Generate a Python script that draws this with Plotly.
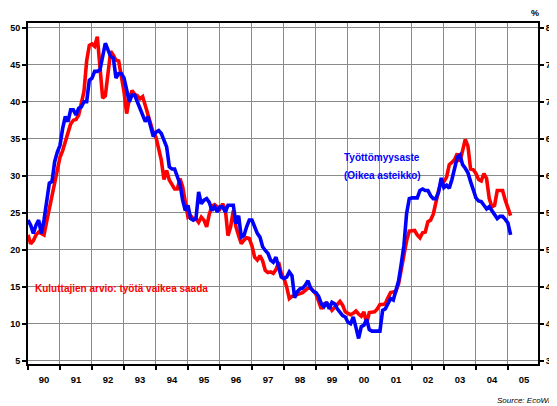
import plotly.graph_objects as go

# Monthly data, Jan 1990 .. Feb 2005
start_year = 1990
# Consumers' assessment: "work hard to find" (left axis, balance)
kuluttajat = [
    22.0, 20.8, 21.2, 22.0, 22.4, 22.2, 22.0, 23.8, 25.6, 27.0, 29.2, 30.8,
    32.5, 33.4, 34.5, 35.6, 37.0, 37.5, 37.6, 38.2, 39.6, 41.4, 45.5, 47.6,
    47.8, 47.5, 48.8, 45.0, 40.5, 40.8, 43.5, 46.8, 46.3, 45.6, 45.5, 43.6,
    41.4, 38.4, 40.4, 41.5, 41.0, 40.8, 40.4, 40.7, 39.5, 38.6, 37.0, 35.8,
    35.2, 33.4, 32.1, 29.5, 30.7, 29.4, 28.7, 28.2, 28.2, 29.6, 28.5, 26.2,
    24.4, 24.6, 24.2, 24.2, 23.7, 24.4, 24.0, 23.1, 24.8, 25.9, 26.1, 25.8,
    25.5, 26.2, 25.5, 21.9, 23.1, 25.3, 23.1, 21.9, 20.8, 21.3, 21.6, 21.5,
    20.5, 19.0, 18.6, 19.2, 18.5, 17.2, 16.9, 17.0, 16.8, 17.3, 18.3, 16.8,
    16.1, 15.0, 13.4, 13.7, 13.8, 14.0, 14.1, 14.2, 14.5, 14.8, 14.8, 14.3,
    14.0, 13.0, 12.0, 12.7, 12.8, 12.4, 11.8, 12.2, 12.7, 13.0, 12.5, 11.6,
    11.4, 11.2, 11.4, 11.7, 11.3, 11.0, 11.6, 10.0, 11.5, 11.6, 11.6, 12.0,
    12.6, 12.6, 12.7, 13.5, 14.2, 14.3, 14.4, 15.4, 17.5, 19.2, 21.2, 22.5,
    22.5, 22.6, 22.0, 21.6, 22.3, 22.4, 23.8, 24.0, 24.8, 26.5, 28.0, 29.2,
    29.2, 29.8, 31.5, 31.8, 32.2, 33.0, 31.9, 33.4, 34.9, 34.0, 30.9, 30.8,
    30.3, 29.5, 29.3, 30.3, 29.6, 26.9, 25.8, 26.0, 28.0, 28.0, 28.0, 26.7,
    25.5, 24.6,
]
# Unemployment rate, % (right axis)
tyottomyys = [
    5.40, 5.33, 5.22, 5.33, 5.40, 5.22, 5.40, 5.65, 5.90, 5.92, 6.19, 6.32,
    6.41, 6.64, 6.80, 6.73, 6.89, 6.89, 6.82, 6.91, 6.93, 7.00, 7.00, 7.29,
    7.32, 7.41, 7.41, 7.43, 7.59, 7.79, 7.70, 7.61, 7.59, 7.32, 7.38, 7.38,
    7.32, 7.14, 7.00, 7.09, 7.09, 7.00, 6.91, 6.82, 6.73, 6.80, 6.66, 6.53,
    6.59, 6.61, 6.57, 6.48, 6.39, 6.12, 6.09, 6.09, 6.00, 5.89, 5.67, 5.53,
    5.60, 5.42, 5.40, 5.42, 5.78, 5.62, 5.67, 5.69, 5.64, 5.53, 5.58, 5.51,
    5.58, 5.58, 5.51, 5.60, 5.60, 5.60, 5.35, 5.46, 5.17, 5.19, 5.31, 5.40,
    5.40, 5.31, 5.22, 5.17, 5.04, 4.99, 4.95, 4.86, 4.83, 4.90, 4.74, 4.63,
    4.61, 4.63, 4.70, 4.65, 4.35, 4.43, 4.47, 4.48, 4.52, 4.58, 4.48, 4.44,
    4.42, 4.37, 4.27, 4.23, 4.29, 4.20, 4.29, 4.27, 4.20, 4.16, 4.11, 4.09,
    4.02, 4.00, 4.09, 3.95, 3.80, 3.96, 3.98, 4.06, 3.92, 3.90, 3.90, 3.90,
    3.90, 4.18, 4.20, 4.27, 4.34, 4.32, 4.45, 4.58, 4.81, 5.06, 5.49, 5.69,
    5.70, 5.70, 5.70, 5.80, 5.82, 5.80, 5.80, 5.73, 5.69, 5.69, 5.78, 5.97,
    5.84, 5.87, 5.83, 5.95, 6.10, 6.25, 6.28, 6.15, 6.10, 6.04, 5.92, 5.80,
    5.70, 5.66, 5.65, 5.60, 5.55, 5.58, 5.52, 5.46, 5.42, 5.45, 5.45, 5.41,
    5.36, 5.20,
]
years = list(range(1990, 2006))
year_labels = ["90", "91", "92", "93", "94", "95", "96", "97", "98", "99",
               "00", "01", "02", "03", "04", "05"]
left_ticks = [5, 10, 15, 20, 25, 30, 35, 40, 45, 50]
right_ticks = [3.5, 4.0, 4.5, 5.0, 5.5, 6.0, 6.5, 7.0, 7.5, 8.0]

t_red = [start_year + i / 12 for i in range(len(kuluttajat))]
t_blue = [start_year + i / 12 for i in range(len(tyottomyys))]

FONT = "Liberation Sans, Arial, sans-serif"
GRID = "#8a8a8a"

fig = go.Figure()
fig.add_trace(go.Scatter(x=t_red, y=kuluttajat, mode="lines",
                         line=dict(color="#ff0000", width=3.6), yaxis="y",
                         showlegend=False, hoverinfo="skip"))
fig.add_trace(go.Scatter(x=t_blue, y=tyottomyys, mode="lines",
                         line=dict(color="#0000ff", width=3.6), yaxis="y2",
                         showlegend=False, hoverinfo="skip"))

# page body has an 8px default margin: the figure is sized/offset to compensate
fig.update_layout(
    template="none",
    width=549, height=398,
    margin=dict(l=20, r=19, t=15, b=42, autoexpand=False),
    paper_bgcolor="white", plot_bgcolor="white",
    separators=", ",
    font=dict(family=FONT, size=9, color="black"),
    xaxis=dict(
        automargin=False,
        range=[1990.0, 2005.94],
        tickmode="array",
        tickvals=[y + 0.5 for y in years],
        ticktext=year_labels,
        ticks="", showgrid=False, ticklabelstandoff=6,
        tickfont=dict(family=FONT, size=9.5, color="black", weight="bold"),
        minor=dict(tickmode="array", tickvals=years, ticks="outside",
                   ticklen=4, tickwidth=1.5, tickcolor="black",
                   showgrid=True, gridcolor=GRID, gridwidth=1),
        showline=True, linecolor="black", linewidth=2, mirror=True,
        zeroline=False, fixedrange=True,
    ),
    yaxis=dict(
        automargin=False,
        range=[4.55, 50.64],
        tickmode="array", tickvals=left_ticks,
        ticks="outside", ticklen=4, tickwidth=1.5, tickcolor="black",
        showgrid=True, gridcolor=GRID, gridwidth=1,
        tickfont=dict(family=FONT, size=9, color="black", weight="bold"),
        showline=True, linecolor="black", linewidth=2, mirror=False,
        zeroline=False,
    ),
    yaxis2=dict(
        automargin=False,
        range=[3.455, 8.064],
        overlaying="y", side="right",
        tickmode="array", tickvals=right_ticks, tickformat=".1f",
        ticks="outside", ticklen=4, tickwidth=1.5, tickcolor="black",
        showgrid=False,
        tickfont=dict(family=FONT, size=9, color="black", weight="bold"),
        showline=True, linecolor="black", linewidth=2,
        zeroline=False,
    ),
    annotations=[
        dict(text="Kuluttajien arvio: työtä vaikea saada", xref="paper", yref="paper",
             x=0.0098, y=0.22, xanchor="left", yanchor="middle", showarrow=False,
             font=dict(family=FONT, size=10, color="#ff0000", weight="bold")),
        dict(text="Työttömyysaste", xref="paper", yref="paper",
             x=0.616, y=0.607, xanchor="left", yanchor="middle", showarrow=False,
             font=dict(family=FONT, size=10, color="#0000ff", weight="bold")),
        dict(text="(Oikea asteikko)", xref="paper", yref="paper",
             x=0.616, y=0.554, xanchor="left", yanchor="middle", showarrow=False,
             font=dict(family=FONT, size=10, color="#0000ff", weight="bold")),
        dict(text="%", xref="paper", yref="paper",
             x=0.994, y=1.029, xanchor="center", yanchor="middle", showarrow=False,
             font=dict(family=FONT, size=9, color="black", weight="bold")),
        dict(text="Source: EcoWin", xref="paper", yref="paper",
             x=0.916, y=-0.106, xanchor="left", yanchor="middle", showarrow=False,
             font=dict(family=FONT, size=8, color="black", style="italic")),
    ],
)

fig.write_html("out.html")
